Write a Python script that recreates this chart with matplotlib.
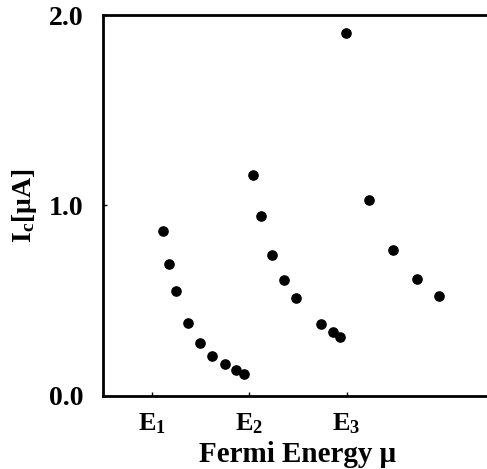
import matplotlib
matplotlib.use("Agg")
import matplotlib.pyplot as plt

# Critical current vs Fermi energy (x in units of E1..E3)
x_band1 = [1.116, 1.182, 1.249, 1.376, 1.499, 1.623, 1.749, 1.869, 1.951]
ic_band1 = [0.866, 0.691, 0.551, 0.385, 0.278, 0.212, 0.170, 0.136, 0.117]

x_band2 = [2.039, 2.118, 2.238, 2.361, 2.484, 2.736, 2.859, 2.931]
ic_band2 = [1.160, 0.945, 0.740, 0.607, 0.513, 0.380, 0.336, 0.311]

x_band3 = [2.997, 3.226, 3.479, 3.725, 3.951]
ic_band3 = [1.907, 1.030, 0.766, 0.616, 0.523]

x_ticks = [1, 2, 3]
x_ticklabels = ["E$_1$", "E$_2$", "E$_3$"]
y_ticks = [0.0, 1.0, 2.0]
y_ticklabels = ["0.0", "1.0", "2.0"]

plt.rcParams['font.family'] = ['Liberation Serif', 'DejaVu Serif']
plt.rcParams['font.weight'] = 'bold'
plt.rcParams['mathtext.fontset'] = 'custom'
plt.rcParams['mathtext.rm'] = 'Liberation Serif:bold'
plt.rcParams['mathtext.default'] = 'rm'

fig = plt.figure(figsize=(4.87, 4.69), dpi=100)
ax = fig.add_axes([0.2115, 0.1557, 0.8005, 0.8123])

for xs, ys in [(x_band1, ic_band1), (x_band2, ic_band2), (x_band3, ic_band3)]:
    ax.scatter(xs, ys, s=44, color='black', zorder=3)

ax.set_xlim(0.5, 4.5)
ax.set_ylim(0.0, 2.0)

ax.set_xticks(x_ticks)
ax.set_xticklabels(x_ticklabels, fontsize=19, fontweight='bold')
ax.set_yticks(y_ticks)
ax.set_yticklabels(y_ticklabels, fontsize=20, fontweight='bold')
ax.tick_params(direction='in', length=3, width=1)
ax.tick_params(axis='x', pad=11)
ax.tick_params(axis='y', pad=14)

for side in ['left', 'bottom', 'top']:
    ax.spines[side].set_linewidth(2)
ax.spines['right'].set_visible(False)

ax.set_xlabel("Fermi Energy μ", fontsize=21, fontweight='bold', labelpad=4)
ax.set_ylabel("I$_c$[μA]", fontsize=20, fontweight='bold', labelpad=7)

fig.savefig("out.png", dpi=100)
